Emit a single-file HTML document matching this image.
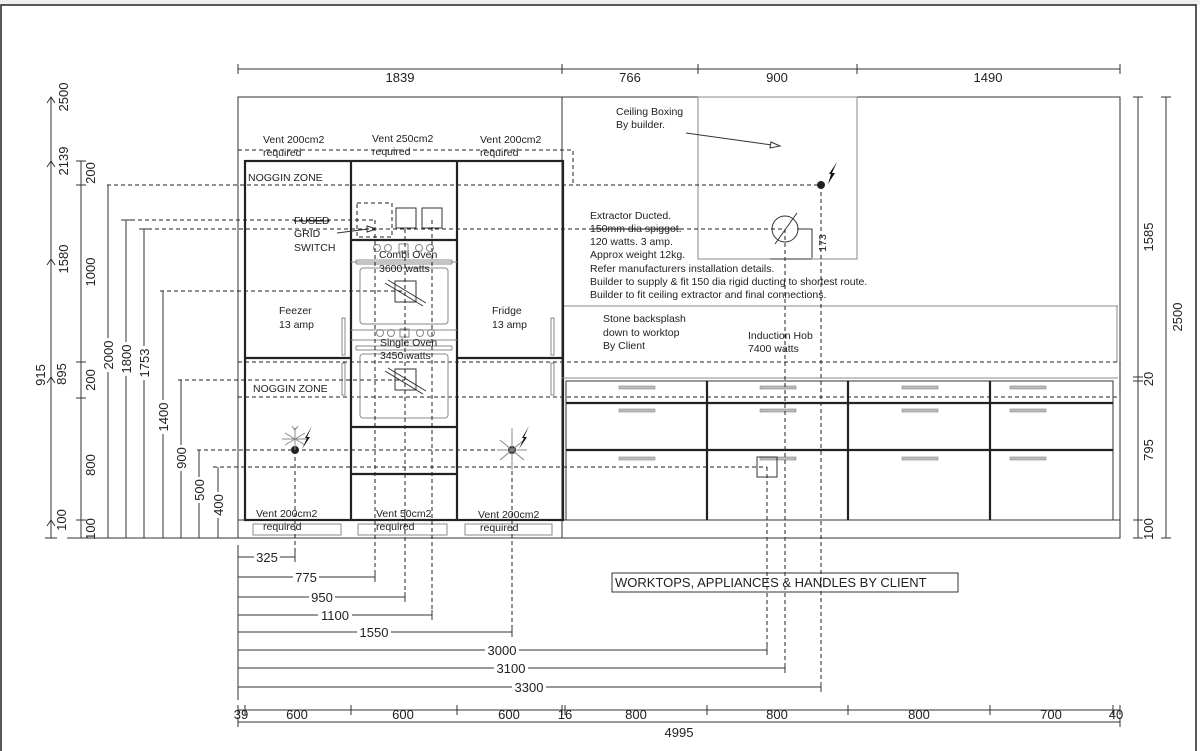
<!DOCTYPE html>
<html><head><meta charset="utf-8"><style>
html,body{margin:0;padding:0;background:#fff;}
svg{display:block;font-family:"Liberation Sans",sans-serif;}
.d{stroke:#222;stroke-width:1;stroke-dasharray:4 3;fill:none}
.t{stroke:#222;stroke-width:2.2;fill:none}
.n{stroke:#333;stroke-width:1;fill:none}
.g{stroke:#888;stroke-width:1;fill:none}
.s{font-size:10.5px;fill:#222}
.m{font-size:13px;fill:#222}
</style></head><body>
<svg width="1200" height="751" viewBox="0 0 1200 751" xmlns="http://www.w3.org/2000/svg">
<rect x="0" y="0" width="1200" height="5" fill="#eee"/>
<rect x="1" y="5" width="1195" height="760" fill="none" stroke="#222" stroke-width="1.5"/>

<!-- top dims -->
<line x1="238" y1="69" x2="1120" y2="69" class="n"/>
<g class="n"><line x1="238" y1="64" x2="238" y2="74"/><line x1="562" y1="64" x2="562" y2="74"/><line x1="698" y1="64" x2="698" y2="74"/><line x1="857" y1="64" x2="857" y2="74"/><line x1="1120" y1="64" x2="1120" y2="74"/></g>
<g class="m" text-anchor="middle"><text x="400" y="82">1839</text><text x="630" y="82">766</text><text x="777" y="82">900</text><text x="988" y="82">1490</text></g>

<!-- main outline -->
<rect x="238" y="97" width="882" height="441" class="n"/>
<line x1="562" y1="97" x2="562" y2="538" class="n"/>
<rect x="698" y="97" width="159" height="162" class="g" stroke="#555"/>
<line x1="562" y1="306" x2="1118" y2="306" class="g"/>
<line x1="1117" y1="306" x2="1117" y2="362" class="g"/>
<line x1="238" y1="520" x2="1120" y2="520" class="n"/>

<!-- dotted vent box -->
<path d="M238 150 H573 V185" class="d" stroke-dasharray="2 2"/>
<!-- tall cabinets -->
<rect x="245" y="161" width="318" height="359" class="t"/>
<line x1="351" y1="161" x2="351" y2="520" class="t"/>
<line x1="457" y1="161" x2="457" y2="520" class="t"/>
<line x1="245" y1="358" x2="351" y2="358" class="t"/>
<line x1="457" y1="358" x2="563" y2="358" class="t"/>
<line x1="351" y1="240" x2="457" y2="240" class="t"/>
<line x1="351" y1="427" x2="457" y2="427" class="t" stroke-width="1.6"/>
<line x1="351" y1="474" x2="457" y2="474" class="t" stroke-width="1.6"/>
<line x1="238" y1="362" x2="1120" y2="362" class="d" stroke-dasharray="2 2"/>
<line x1="238" y1="397" x2="1120" y2="397" class="d" stroke-dasharray="2 2"/>
<line x1="1120" y1="362" x2="1120" y2="397" class="d" stroke-dasharray="2 2"/>
<!-- handles tall -->
<g class="g"><rect x="342" y="318" width="3" height="37"/><rect x="342" y="363" width="3" height="32"/><rect x="551" y="318" width="3" height="37"/><rect x="551" y="363" width="3" height="32"/></g>
<!-- ovens -->
<g class="g">
<line x1="351" y1="262" x2="457" y2="262"/><line x1="351" y1="340" x2="457" y2="340"/><line x1="351" y1="330" x2="457" y2="330"/>
<rect x="356" y="260" width="96" height="4" rx="1"/><rect x="360" y="268" width="88" height="56" rx="3"/>
<rect x="356" y="346" width="96" height="4" rx="1"/><rect x="360" y="354" width="88" height="64" rx="3"/>
<circle cx="377" cy="248" r="3.5"/><circle cx="388" cy="248" r="3.5"/><rect x="399" y="244" width="9" height="8"/><circle cx="419" cy="248" r="3.5"/><circle cx="430" cy="248" r="3.5"/>
<circle cx="380" cy="333" r="3.5"/><circle cx="391" cy="333" r="3.5"/><rect x="400" y="329" width="9" height="8"/><circle cx="420" cy="333" r="3.5"/><circle cx="431" cy="333" r="3.5"/>
</g>
<rect x="395" y="281" width="21" height="21" class="n" stroke-width="1.5"/>
<rect x="395" y="369" width="21" height="21" class="n" stroke-width="1.5"/>
<g class="n"><line x1="385" y1="283" x2="423" y2="306"/><line x1="388" y1="280" x2="426" y2="303"/><line x1="385" y1="371" x2="423" y2="394"/><line x1="388" y1="368" x2="426" y2="391"/></g>
<rect x="357" y="203" width="35" height="34" class="d" stroke-dasharray="2 2"/>
<rect x="396" y="208" width="20" height="20" class="n" stroke-width="1.5"/>
<rect x="422" y="208" width="20" height="20" class="n" stroke-width="1.5"/>
<line x1="337" y1="233" x2="368" y2="229" class="n"/><path d="M367 226 L376 229 L367 232Z" fill="#fff" stroke="#333"/>

<!-- plinth vents -->
<g class="g"><rect x="253" y="524" width="88" height="11"/><rect x="358" y="524" width="89" height="11"/><rect x="465" y="524" width="87" height="11"/></g>

<!-- base units -->
<rect x="566" y="381" width="547" height="139" class="n" stroke-width="1.6"/>
<g class="t"><line x1="566" y1="403" x2="1113" y2="403"/><line x1="566" y1="450" x2="1113" y2="450"/><line x1="707" y1="381" x2="707" y2="520"/><line x1="848" y1="381" x2="848" y2="520"/><line x1="990" y1="381" x2="990" y2="520"/></g>
<line x1="562" y1="378" x2="1118" y2="378" class="g"/>
<g fill="#bbb" stroke="#888" stroke-width="0.6">
<rect x="619" y="386" width="36" height="3"/><rect x="760" y="386" width="36" height="3"/><rect x="902" y="386" width="36" height="3"/><rect x="1010" y="386" width="36" height="3"/>
<rect x="619" y="409" width="36" height="3"/><rect x="760" y="409" width="36" height="3"/><rect x="902" y="409" width="36" height="3"/><rect x="1010" y="409" width="36" height="3"/>
<rect x="619" y="457" width="36" height="3"/><rect x="760" y="457" width="36" height="3"/><rect x="902" y="457" width="36" height="3"/><rect x="1010" y="457" width="36" height="3"/>
</g>
<rect x="757" y="457" width="20" height="20" class="n" stroke-width="1.5"/>

<!-- dashed reference lines -->
<g class="d">
<line x1="107" y1="185" x2="821" y2="185"/>
<line x1="124" y1="220" x2="375" y2="220"/>
<line x1="141" y1="229" x2="785" y2="229"/>
<line x1="160" y1="291" x2="405" y2="291"/>
<line x1="178" y1="380" x2="405" y2="380"/>
<line x1="197" y1="450" x2="512" y2="450"/>
<line x1="213" y1="467" x2="767" y2="467"/>
<line x1="295" y1="450" x2="295" y2="557"/>
<line x1="375" y1="220" x2="375" y2="577"/>
<line x1="405" y1="229" x2="405" y2="597"/>
<line x1="432" y1="220" x2="432" y2="615"/>
<line x1="512" y1="450" x2="512" y2="632"/>
<line x1="767" y1="467" x2="767" y2="650"/>
<line x1="785" y1="229" x2="785" y2="668"/>
<line x1="821" y1="185" x2="821" y2="687"/>
</g>

<!-- sockets -->
<g stroke="#222" fill="#222">
<circle cx="295" cy="450" r="3.5"/><circle cx="512" cy="450" r="3.5"/><circle cx="821" cy="185" r="3.5"/>
</g>
<g class="g" stroke="#777">
<path d="M295 428 V450 M285 433 L305 445 M305 433 L285 445 M282 439 H308 M292 426 L295 430 L298 426"/>
<path d="M512 428 V470 M500 440 L524 460 M524 440 L500 460 M497 450 H527"/>
</g>
<g fill="#111"><path d="M302 449 L307 438 L305 438 L312 426 L307 437 L310 437 Z"/><path d="M519 449 L524 438 L522 438 L529 426 L524 437 L527 437 Z"/><path d="M828 184 L831 174 L829 174 L837 162 L832 173 L835 173 Z"/></g>

<!-- extractor -->
<circle cx="785" cy="229" r="13" class="n" stroke-width="1.3"/>
<line x1="775" y1="244" x2="797" y2="213" class="n" stroke-width="1.3"/>
<path d="M797 229 H812 V258 M770 259 H812" class="n"/>
<text class="s" transform="translate(826,243) rotate(-90)" text-anchor="middle" font-size="12">173</text>
<line x1="686" y1="133" x2="772" y2="145" class="n" stroke-width="1.3"/>
<path d="M771 142 L780 146 L770 148Z" fill="#fff" stroke="#333"/>

<!-- texts -->
<g class="s">
<text x="616" y="115">Ceiling Boxing</text><text x="616" y="128">By builder.</text>
<text x="590" y="219">Extractor Ducted.</text>
<text x="590" y="232" text-decoration="line-through">150mm dia spiggot.</text>
<text x="590" y="245">120 watts. 3 amp.</text>
<text x="590" y="258">Approx weight 12kg.</text>
<text x="590" y="272">Refer manufacturers installation details.</text>
<text x="590" y="285">Builder to supply &amp; fit 150 dia rigid ducting to shortest route.</text>
<text x="590" y="298">Builder to fit ceiling extractor and final connections.</text>
<text x="603" y="322">Stone backsplash</text><text x="603" y="336">down to worktop</text><text x="603" y="349">By Client</text>
<text x="748" y="339">Induction Hob</text><text x="748" y="352">7400 watts</text>
<text x="263" y="143">Vent 200cm2</text><text x="263" y="156">required</text>
<text x="372" y="142">Vent 250cm2</text><text x="372" y="155">required</text>
<text x="480" y="143">Vent 200cm2</text><text x="480" y="156">required</text>
<text x="248" y="181">NOGGIN ZONE</text><text x="253" y="392">NOGGIN ZONE</text>
<text x="294" y="224" text-decoration="line-through">FUSED</text><text x="294" y="237">GRID</text><text x="294" y="251">SWITCH</text>
<text x="379" y="258">Combi Oven</text><text x="379" y="272">3600 watts</text>
<text x="380" y="346">Single Oven</text><text x="380" y="359">3450 watts</text>
<text x="279" y="314">Feezer</text><text x="279" y="328">13 amp</text>
<text x="492" y="314">Fridge</text><text x="492" y="328">13 amp</text>
<text x="256" y="517">Vent 200cm2</text><text x="263" y="530">required</text>
<text x="376" y="517">Vent 50cm2</text><text x="376" y="530">required</text>
<text x="478" y="518">Vent 200cm2</text><text x="480" y="531">required</text>
</g>
<rect x="612" y="573" width="346" height="19" class="n" stroke-width="1.3"/>
<text x="615" y="587" class="m" font-size="12.5">WORKTOPS, APPLIANCES &amp; HANDLES BY CLIENT</text>

<!-- horizontal dims below -->
<g class="n">
<line x1="238" y1="545" x2="238" y2="700"/>
<line x1="238" y1="557" x2="295" y2="557"/><line x1="295" y1="552" x2="295" y2="562"/>
<line x1="238" y1="577" x2="375" y2="577"/><line x1="375" y1="572" x2="375" y2="582"/>
<line x1="238" y1="597" x2="405" y2="597"/><line x1="405" y1="592" x2="405" y2="602"/>
<line x1="238" y1="615" x2="432" y2="615"/><line x1="432" y1="610" x2="432" y2="620"/>
<line x1="238" y1="632" x2="512" y2="632"/><line x1="512" y1="627" x2="512" y2="637"/>
<line x1="238" y1="650" x2="767" y2="650"/><line x1="767" y1="645" x2="767" y2="655"/>
<line x1="238" y1="668" x2="785" y2="668"/><line x1="785" y1="663" x2="785" y2="673"/>
<line x1="238" y1="687" x2="821" y2="687"/><line x1="821" y1="682" x2="821" y2="692"/>
</g>
<g class="m" text-anchor="middle">
<rect x="254" y="550" width="26" height="14" fill="#fff"/><text x="267" y="562">325</text>
<rect x="293" y="570" width="26" height="14" fill="#fff"/><text x="306" y="582">775</text>
<rect x="309" y="590" width="26" height="14" fill="#fff"/><text x="322" y="602">950</text>
<rect x="318" y="608" width="34" height="14" fill="#fff"/><text x="335" y="620">1100</text>
<rect x="357" y="625" width="34" height="14" fill="#fff"/><text x="374" y="637">1550</text>
<rect x="485" y="643" width="34" height="14" fill="#fff"/><text x="502" y="655">3000</text>
<rect x="494" y="661" width="34" height="14" fill="#fff"/><text x="511" y="673">3100</text>
<rect x="512" y="680" width="34" height="14" fill="#fff"/><text x="529" y="692">3300</text>
</g>

<!-- bottom dims -->
<line x1="238" y1="710" x2="1120" y2="710" class="n"/>
<g class="n"><line x1="238" y1="705" x2="238" y2="715"/><line x1="245" y1="705" x2="245" y2="715"/><line x1="351" y1="705" x2="351" y2="715"/><line x1="457" y1="705" x2="457" y2="715"/><line x1="562" y1="705" x2="562" y2="715"/><line x1="565" y1="705" x2="565" y2="715"/><line x1="707" y1="705" x2="707" y2="715"/><line x1="848" y1="705" x2="848" y2="715"/><line x1="990" y1="705" x2="990" y2="715"/><line x1="1113" y1="705" x2="1113" y2="715"/><line x1="1120" y1="705" x2="1120" y2="715"/></g>
<g class="m" text-anchor="middle" font-size="12.5">
<text x="241" y="719">39</text><text x="297" y="719">600</text><text x="403" y="719">600</text><text x="509" y="719">600</text><text x="565" y="719">16</text><text x="636" y="719">800</text><text x="777" y="719">800</text><text x="919" y="719">800</text><text x="1051" y="719">700</text><text x="1116" y="719">40</text>
</g>
<line x1="238" y1="722" x2="1120" y2="722" class="n"/>
<line x1="238" y1="717" x2="238" y2="727" class="n"/><line x1="1120" y1="717" x2="1120" y2="727" class="n"/>
<text x="679" y="737" class="m" text-anchor="middle" font-size="12.5">4995</text>

<!-- left dims -->
<g class="n">
<line x1="51" y1="97" x2="51" y2="538"/>
<line x1="45" y1="538" x2="57" y2="538"/>
<path d="M47 103 L51 97 L55 103 M47 167 L51 161 L55 167 M47 265 L51 259 L55 265 M47 383 L51 377 L55 383 M47 526 L51 520 L55 526"/>
<line x1="81" y1="161" x2="81" y2="538"/>
<g><line x1="76" y1="161" x2="86" y2="161"/><line x1="76" y1="185" x2="86" y2="185"/><line x1="76" y1="362" x2="86" y2="362"/><line x1="76" y1="398" x2="86" y2="398"/><line x1="76" y1="520" x2="86" y2="520"/><line x1="67" y1="538" x2="240" y2="538"/></g>
<line x1="108" y1="185" x2="108" y2="538"/>
<line x1="126" y1="220" x2="126" y2="538"/><line x1="121" y1="220" x2="131" y2="220"/>
<line x1="144" y1="229" x2="144" y2="538"/><line x1="139" y1="229" x2="149" y2="229"/>
<line x1="163" y1="291" x2="163" y2="538"/>
<line x1="181" y1="380" x2="181" y2="538"/>
<line x1="199" y1="450" x2="199" y2="538"/>
<line x1="218" y1="467" x2="218" y2="538"/>
</g>
<g class="m" text-anchor="middle">
<text transform="translate(68,97) rotate(-90)">2500</text>
<text transform="translate(68,161) rotate(-90)">2139</text>
<text transform="translate(68,259) rotate(-90)">1580</text>
<text transform="translate(45,375) rotate(-90)">915</text>
<text transform="translate(66,374) rotate(-90)">895</text>
<text transform="translate(66,520) rotate(-90)">100</text>
<text transform="translate(95,173) rotate(-90)">200</text>
<text transform="translate(95,272) rotate(-90)">1000</text>
<text transform="translate(95,380) rotate(-90)">200</text>
<text transform="translate(95,465) rotate(-90)">800</text>
<text transform="translate(95,529) rotate(-90)">100</text>
</g>
<g class="m" text-anchor="middle">
<rect x="101" y="338" width="14" height="34" fill="#fff"/><text transform="translate(113,355) rotate(-90)">2000</text>
<rect x="119" y="342" width="14" height="34" fill="#fff"/><text transform="translate(131,359) rotate(-90)">1800</text>
<rect x="137" y="346" width="14" height="34" fill="#fff"/><text transform="translate(149,363) rotate(-90)">1753</text>
<rect x="156" y="400" width="14" height="34" fill="#fff"/><text transform="translate(168,417) rotate(-90)">1400</text>
<rect x="174" y="445" width="14" height="26" fill="#fff"/><text transform="translate(186,458) rotate(-90)">900</text>
<rect x="192" y="477" width="14" height="26" fill="#fff"/><text transform="translate(204,490) rotate(-90)">500</text>
<rect x="211" y="492" width="14" height="26" fill="#fff"/><text transform="translate(223,505) rotate(-90)">400</text>
</g>

<!-- right dims -->
<g class="n">
<line x1="1138" y1="97" x2="1138" y2="538"/>
<line x1="1133" y1="97" x2="1143" y2="97"/><line x1="1133" y1="377" x2="1143" y2="377"/><line x1="1133" y1="381" x2="1143" y2="381"/><line x1="1133" y1="520" x2="1143" y2="520"/><line x1="1133" y1="538" x2="1143" y2="538"/>
<line x1="1166" y1="97" x2="1166" y2="538"/><line x1="1161" y1="97" x2="1171" y2="97"/><line x1="1161" y1="538" x2="1171" y2="538"/>
</g>
<g class="m" text-anchor="middle">
<text transform="translate(1153,237) rotate(-90)">1585</text>
<text transform="translate(1153,379) rotate(-90)">20</text>
<text transform="translate(1153,450) rotate(-90)">795</text>
<text transform="translate(1153,529) rotate(-90)">100</text>
<text transform="translate(1182,317) rotate(-90)">2500</text>
</g>
</svg>
</body></html>
